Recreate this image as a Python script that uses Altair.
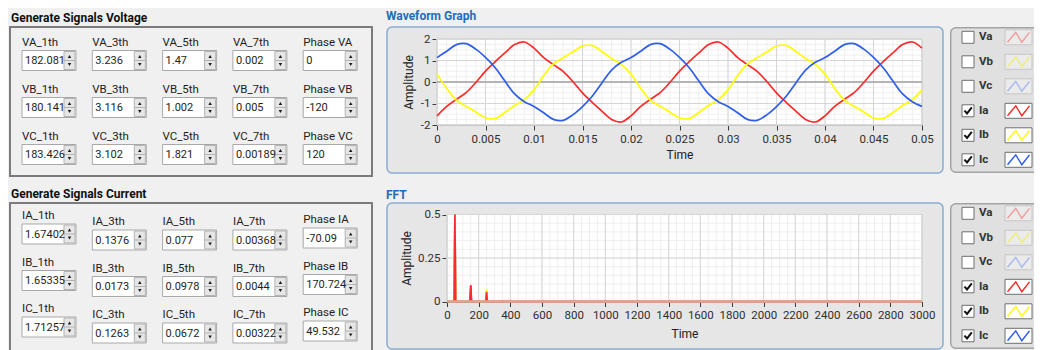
import altair as alt
import pandas as pd

FONT = "Roboto"
BG = "#f0f0f0"

# ---------------- control panel contents ----------------
VOLT_LABELS = [
    ["VA_1th", "VA_3th", "VA_5th", "VA_7th", "Phase VA"],
    ["VB_1th", "VB_3th", "VB_5th", "VB_7th", "Phase VB"],
    ["VC_1th", "VC_3th", "VC_5th", "VC_7th", "Phase VC"],
]
VOLT_VALUES = [
    [182.081, 3.236, 1.47, 0.002, 0],
    [180.141, 3.116, 1.002, 0.005, -120],
    [183.426, 3.102, 1.821, 0.00189, 120],
]
CURR_LABELS = [
    ["IA_1th", "IA_3th", "IA_5th", "IA_7th", "Phase IA"],
    ["IB_1th", "IB_3th", "IB_5th", "IB_7th", "Phase IB"],
    ["IC_1th", "IC_3th", "IC_5th", "IC_7th", "Phase IC"],
]
CURR_VALUES = [
    [1.67402, 0.1376, 0.077, 0.00368, -70.09],
    [1.65335, 0.0173, 0.0978, 0.0044, 170.724],
    [1.71257, 0.1263, 0.0672, 0.00322, 49.532],
]

# ---------------- waveform (currents) ----------------
TIME = [0.0, 0.001, 0.002, 0.003, 0.004, 0.005, 0.006, 0.007, 0.008, 0.009,
        0.01, 0.011, 0.012, 0.013, 0.014, 0.015, 0.016, 0.017, 0.018, 0.019,
        0.02, 0.021, 0.022, 0.023, 0.024, 0.025, 0.026, 0.027, 0.028, 0.029,
        0.03, 0.031, 0.032, 0.033, 0.034, 0.035, 0.036, 0.037, 0.038, 0.039,
        0.04, 0.041, 0.042, 0.043, 0.044, 0.045, 0.046, 0.047, 0.048, 0.049,
        0.05]
IA = [-1.574, -1.132, -0.807, -0.498, -0.025, 0.509, 0.948, 1.352, 1.739, 1.861,
      1.574, 1.132, 0.807, 0.498, 0.025, -0.509, -0.948, -1.352, -1.739, -1.861,
      -1.574, -1.132, -0.807, -0.498, -0.025, 0.509, 0.948, 1.352, 1.739, 1.861,
      1.574, 1.132, 0.807, 0.498, 0.025, -0.509, -0.948, -1.352, -1.739, -1.861,
      -1.574, -1.132, -0.807, -0.498, -0.025, 0.509, 0.948, 1.352, 1.739, 1.861,
      1.574]
IB = [0.366, -0.298, -0.841, -1.131, -1.392, -1.672, -1.702, -1.416, -1.094, -0.822,
      -0.366, 0.298, 0.841, 1.131, 1.392, 1.672, 1.702, 1.416, 1.094, 0.822,
      0.366, -0.298, -0.841, -1.131, -1.392, -1.672, -1.702, -1.416, -1.094, -0.822,
      -0.366, 0.298, 0.841, 1.131, 1.392, 1.672, 1.702, 1.416, 1.094, 0.822,
      0.366, -0.298, -0.841, -1.131, -1.392, -1.672, -1.702, -1.416, -1.094, -0.822,
      -0.366]
IC = [1.135, 1.434, 1.739, 1.783, 1.527, 1.141, 0.661, 0.043, -0.553, -0.916,
      -1.135, -1.434, -1.739, -1.783, -1.527, -1.141, -0.661, -0.043, 0.553, 0.916,
      1.135, 1.434, 1.739, 1.783, 1.527, 1.141, 0.661, 0.043, -0.553, -0.916,
      -1.135, -1.434, -1.739, -1.783, -1.527, -1.141, -0.661, -0.043, 0.553, 0.916,
      1.135, 1.434, 1.739, 1.783, 1.527, 1.141, 0.661, 0.043, -0.553, -0.916,
      -1.135]
WAVE_X_TICKS = [0, 0.005, 0.01, 0.015, 0.02, 0.025, 0.03, 0.035, 0.04, 0.045, 0.05]
WAVE_Y_TICKS = [-2, -1, 0, 1, 2]

# ---------------- FFT spectrum ----------------
FFT_FREQ = [0, 45, 50, 55, 145, 150, 155, 245, 250, 255, 345, 350, 355, 3000]
FFT_IA = [0, 0, 1.184, 0, 0, 0.095, 0, 0, 0.056, 0, 0, 0.003, 0, 0]
FFT_IB = [0, 0, 1.169, 0, 0, 0.012, 0, 0, 0.070, 0, 0, 0.004, 0, 0]
FFT_IC = [0, 0, 1.211, 0, 0, 0.089, 0, 0, 0.048, 0, 0, 0.002, 0, 0]
FFT_X_TICKS = [0, 200, 400, 600, 800, 1000, 1200, 1400, 1600, 1800, 2000,
               2200, 2400, 2600, 2800, 3000]
FFT_Y_TICKS = [0, 0.25, 0.5]

# ---------------- plot legend ----------------
LEG_NAMES = ["Va", "Vb", "Vc", "Ia", "Ib", "Ic"]
LEG_ON = [False, False, False, True, True, True]
LEG_COLORS = ["#f09a9a", "#eded78", "#a6b8ee", "#ff2020", "#ffff00", "#2456e6"]

SERIES_COLORS = {"Ia": "#ff2b2b", "Ib": "#ffff00", "Ic": "#2f5ee8"}

ZIG = "M-1,0.45L-0.25,-0.45L0.3,0.45L1,-0.45"
CHECK = "M-0.75,-0.05L-0.2,0.55L0.8,-0.7"

COL_PX = 70.3      # pixel pitch of the control columns
BOX_W = 362        # width of the control group box
CELL_W = 370       # width of the grid cell holding the group box
LEG_W = 84         # visible width of the plot-legend panels (cut at the window edge)


# ======================================================================
def controls(labels, values, title, title_offset, height, first_px, row_px, col_dy):
    recs = []
    for r in range(3):
        for c in range(5):
            recs.append({"row": r, "col": c, "label": labels[r][c],
                         "value": str(values[r][c]), "dy": col_dy[c]})
    df = pd.DataFrame(recs)
    x_lo, x_hi = -39 / COL_PX, (CELL_W - 39) / COL_PX
    y_lo, y_hi = -first_px / row_px, (height - first_px) / row_px
    xs = alt.Scale(domain=[x_lo, x_hi], nice=False, zero=False)
    ys = alt.Scale(domain=[y_lo, y_hi], nice=False, zero=False, reverse=True)
    base = alt.Chart(df).transform_calculate(yy=f"datum.row + datum.dy / {row_px}")
    X = alt.X("col:Q", scale=xs, axis=None)
    Y = alt.Y("yy:Q", scale=ys, axis=None)
    X2 = alt.X2("col")
    Y2 = alt.Y2("yy")

    frame = alt.Chart(pd.DataFrame({"a": [0]})).mark_rect(
        fill=BG, stroke="#7b7b7b", strokeWidth=2).encode(
        x=alt.XDatum(x_lo, scale=xs, axis=None), x2=alt.X2Datum((BOX_W - 39) / COL_PX),
        y=alt.YDatum(y_lo, scale=ys, axis=None), y2=alt.Y2Datum(y_hi))
    field = base.mark_rect(fill="white", stroke="#a9a9a9", strokeWidth=1,
                           xOffset=-27, x2Offset=27, yOffset=-10, y2Offset=10
                           ).encode(x=X, x2=X2, y=Y, y2=Y2)
    spin = base.mark_rect(fill="#e6e6e6", stroke="#b3b3b3", strokeWidth=1,
                          xOffset=15, x2Offset=26, yOffset=-9, y2Offset=9
                          ).encode(x=X, x2=X2, y=Y, y2=Y2)
    sep = base.mark_rule(stroke="#b3b3b3", strokeWidth=1, xOffset=15, x2Offset=26
                         ).encode(x=X, x2=X2, y=Y)
    up = base.mark_point(shape="triangle-up", filled=True, size=12, color="#1a1a1a",
                         opacity=1, xOffset=20.5, yOffset=-4).encode(x=X, y=Y)
    down = base.mark_point(shape="triangle-down", filled=True, size=12, color="#1a1a1a",
                           opacity=1, xOffset=20.5, yOffset=4).encode(x=X, y=Y)
    lab = base.mark_text(align="left", baseline="middle", dx=-27, dy=-18, font=FONT,
                         fontSize=11.5, color="#1e1e1e").encode(x=X, y=Y, text="label:N")
    val = base.mark_text(align="left", baseline="middle", dx=-24, dy=0.5, font=FONT,
                         fontSize=11, color="#1e1e1e", limit=41, ellipsis=""
                         ).encode(x=X, y=Y, text="value:N")
    return alt.layer(frame, field, spin, sep, up, down, lab, val).properties(
        width=CELL_W, height=height,
        view=alt.ViewBackground(strokeWidth=0),
        title=alt.TitleParams(title, anchor="start", frame="group", offset=title_offset,
                              dx=1, font=FONT, fontSize=12, fontWeight="bold", color="#111111"),
    )


def x_axis(values, offset, tpad):
    return alt.Axis(values=values, title="Time", offset=offset, grid=False,
                    domain=True, domainColor="#6c6c6c", ticks=True, tickColor="#3a3a3a",
                    tickSize=5, labelColor="#2f2f2f", labelFont=FONT, labelFontSize=11.5,
                    labelPadding=3, labelFlush=False, labelOverlap=False,
                    labelExpr="'' + datum.value", titleFont=FONT, titleFontSize=12,
                    titleFontWeight="normal", titleColor="#202020", titlePadding=tpad)


def y_axis(values, offset, tpad):
    return alt.Axis(values=values, title="Amplitude", offset=offset, grid=False,
                    domain=True, domainColor="#6c6c6c", ticks=True, tickColor="#3a3a3a",
                    tickSize=5, labelColor="#2f2f2f", labelFont=FONT, labelFontSize=11.5,
                    labelPadding=2, labelFlush=False, labelOverlap=False,
                    labelExpr="'' + datum.value", titleFont=FONT, titleFontSize=12,
                    titleFontWeight="normal", titleColor="#202020", titlePadding=tpad)


def graph(title, title_offset, xdom, xrng, ydom, yrng, xticks, xminor, yticks, yminor,
          yoff, ytpad, xtpad, curves, zero_color, zero_width, zero_on_top, clamp):
    W, H = 556, 146
    xs = alt.Scale(domain=xdom, range=xrng, nice=False, zero=False)
    ys = alt.Scale(domain=ydom, range=yrng, nice=False, zero=False, clamp=clamp)
    ax = x_axis(xticks, -(H - yrng[0]), xtpad)
    ay = y_axis(yticks, yoff, ytpad)
    one = pd.DataFrame({"a": [0]})

    bg = alt.Chart(one).mark_rect(fill="white", stroke="#9b9b9b", strokeWidth=1).encode(
        x=alt.XDatum(xdom[0], scale=xs, axis=ax), x2=alt.X2Datum(xdom[1]),
        y=alt.YDatum(ydom[0], scale=ys, axis=ay), y2=alt.Y2Datum(ydom[1]))

    def vgrid(vals, color):
        return alt.Chart(pd.DataFrame({"v": vals})).mark_rule(color=color, strokeWidth=1).encode(
            x=alt.X("v:Q", scale=xs, axis=ax),
            y=alt.YDatum(ydom[0], scale=ys, axis=ay), y2=alt.Y2Datum(ydom[1]))

    def hgrid(vals, color):
        return alt.Chart(pd.DataFrame({"v": vals})).mark_rule(color=color, strokeWidth=1).encode(
            y=alt.Y("v:Q", scale=ys, axis=ay),
            x=alt.XDatum(xdom[0], scale=xs, axis=ax), x2=alt.X2Datum(xdom[1]))

    zero = alt.Chart(one).mark_rule(color=zero_color, strokeWidth=zero_width).encode(
        x=alt.XDatum(xdom[0], scale=xs, axis=ax), x2=alt.X2Datum(xdom[1]),
        y=alt.YDatum(0, scale=ys, axis=ay))

    lines = []
    for name, xv, yv, interp in curves:
        d = pd.DataFrame({"x": xv, "y": yv})
        lines.append(alt.Chart(d).mark_line(color=SERIES_COLORS[name], strokeWidth=1.7,
                                            interpolate=interp).encode(
            x=alt.X("x:Q", scale=xs, axis=ax), y=alt.Y("y:Q", scale=ys, axis=ay)))

    layers = [bg, vgrid(xminor, "#efefef"), hgrid(yminor, "#efefef"),
              vgrid(xticks, "#d6d6d6"), hgrid(yticks, "#d6d6d6")]
    if zero_on_top:
        layers += lines + [zero]
    else:
        layers += [zero] + lines
    return alt.layer(*layers).properties(
        width=W, height=H,
        view=alt.ViewBackground(fill="#e6e6e6", stroke="#86acd2", strokeWidth=1.5, cornerRadius=5),
        title=alt.TitleParams(title, anchor="start", frame="group", offset=title_offset,
                              dx=-1, font=FONT, fontSize=12, fontWeight="bold", color="#1f6db8"),
    )


def legend():
    df = pd.DataFrame({"name": LEG_NAMES, "row": list(range(6)), "on": LEG_ON})
    H = 146
    ys = alt.Scale(domain=[-10.3 / 24.5, (H - 10.3) / 24.5], nice=False, zero=False, reverse=True)
    Y = alt.Y("row:Q", scale=ys, axis=None)
    Y2 = alt.Y2("row")
    base = alt.Chart(df)
    panel = alt.Chart(pd.DataFrame({"a": [0]})).mark_rect(
        fill="#e0e0e0", stroke="#a3a3a3", strokeWidth=1.5, cornerRadius=5, clip=True
    ).encode(x=alt.value(0.75), x2=alt.value(LEG_W + 20), y=alt.value(0.75),
             y2=alt.value(H - 0.75))
    box_off = base.transform_filter("!datum.on").mark_rect(
        fill="#ebebeb", stroke="#c6c6c6", strokeWidth=1, yOffset=-7.5, y2Offset=7.5
    ).encode(x=alt.value(55), x2=alt.value(82), y=Y, y2=Y2)
    box_on = base.transform_filter("datum.on").mark_rect(
        fill="white", stroke="#6f6f6f", strokeWidth=1, yOffset=-7.5, y2Offset=7.5
    ).encode(x=alt.value(55), x2=alt.value(82), y=Y, y2=Y2)
    zig = base.mark_point(shape=ZIG, filled=False, size=484, strokeWidth=1.4, opacity=1).encode(
        x=alt.value(68.5), y=Y,
        color=alt.Color("name:N", scale=alt.Scale(domain=LEG_NAMES, range=LEG_COLORS), legend=None))
    cb = base.mark_square(size=144, filled=True, fill="white", stroke="#6e6e6e",
                          strokeWidth=1, opacity=1).encode(x=alt.value(18), y=Y)
    chk = base.transform_filter("datum.on").mark_point(
        shape=CHECK, filled=False, size=90, color="#111111", strokeWidth=2, opacity=1
    ).encode(x=alt.value(18), y=Y)
    lab = base.mark_text(align="left", baseline="middle", font=FONT, fontSize=11.5,
                         fontWeight="bold", color="#333333").encode(
        x=alt.value(29), y=Y, text="name:N")
    return alt.layer(panel, box_off, box_on, zig, cb, chk, lab).properties(
        width=LEG_W, height=H,
        view=alt.ViewBackground(strokeWidth=0),
    )


volt = controls(VOLT_LABELS, VOLT_VALUES, "Generate Signals Voltage", 1, 149, 33.5, 47,
                [0, 0, 0, 0, 0])
curr = controls(CURR_LABELS, CURR_VALUES, "Generate Signals Current", 1, 150, 37, 46.5,
                [-6, 0, 0, 0, -2])

wave = graph("Waveform Graph", 4, [0, 0.05], [50, 535], [-2, 2], [98, 12],
             WAVE_X_TICKS, [i / 1000 for i in range(51)],
             WAVE_Y_TICKS, [-2 + 0.25 * i for i in range(17)],
             -50, 5, 5,
             [("Ia", TIME, IA, "catmull-rom"), ("Ib", TIME, IB, "catmull-rom"),
              ("Ic", TIME, IC, "catmull-rom")],
             "#b4b4b4", 2, False, False)
fft = graph("FFT", 1, [0, 3000], [60, 535], [0, 0.5], [98.5, 11.5],
            FFT_X_TICKS, [50 * i for i in range(61)],
            FFT_Y_TICKS, [0.05 * i for i in range(11)],
            -60, 4, 7,
            [("Ic", FFT_FREQ, FFT_IC, "linear"), ("Ib", FFT_FREQ, FFT_IB, "linear"),
             ("Ia", FFT_FREQ, FFT_IA, "linear")],
            "#dca58e", 2.5, True, True)

chart = alt.concat(volt, wave, legend(), curr, fft, legend(), columns=3,
                   spacing={"row": 27, "column": 7}, bounds="flush").properties(
    padding={"left": 1, "top": 1, "right": 0, "bottom": 0}, background=BG)

chart.save("out.html", embed_options={"renderer": "svg", "actions": False})
